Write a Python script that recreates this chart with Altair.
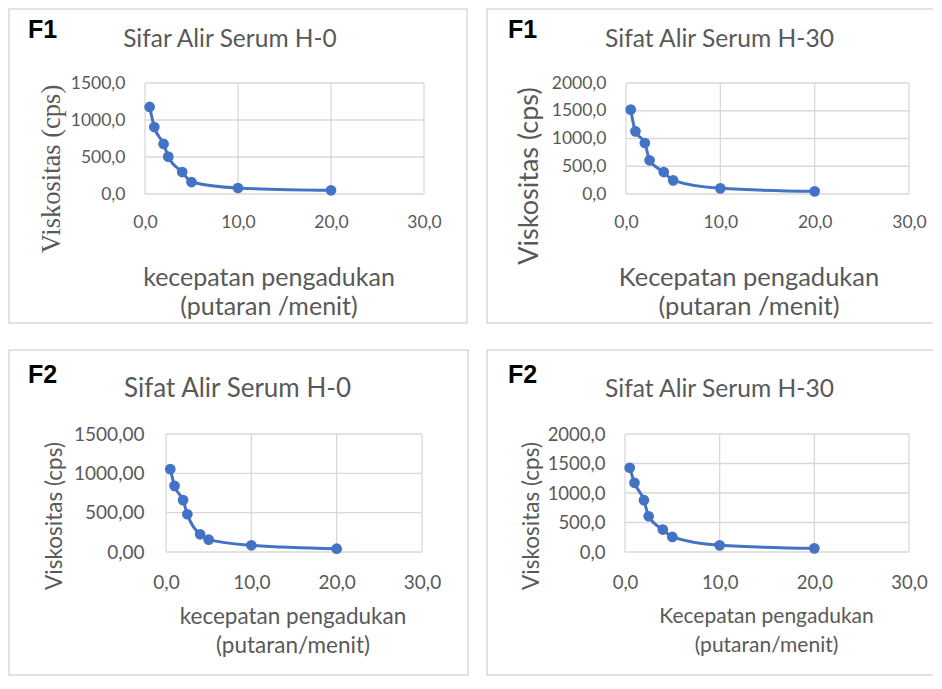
import altair as alt
import pandas as pd

# ---- data ----
speed = [0.5, 1, 2, 2.5, 4, 5, 10, 20]
f1_h0 = [1176, 905, 676, 505, 297, 162, 81, 50]
f1_h30 = [1520, 1129, 919, 607, 396, 246, 102, 48]
f2_h0 = [1054, 841, 659, 480, 225, 157, 85, 42]
f2_h30 = [1428, 1173, 878, 606, 380, 255, 113, 62]

x_ticks = [0, 10, 20, 30]
y_ticks_1500 = [0, 500, 1000, 1500]
y_ticks_2000 = [0, 500, 1000, 1500, 2000]

BLUE = "#4472C4"
GRAY = "#595959"
GRID = "#d9d9d9"
SANS = "Lato"
SERIF = "Liberation Serif, Lato"
CW, CH = 925, 668  # whole drawing


def txt(s, x, y, font, size, color=GRAY, weight="normal", align="center",
        baseline="alphabetic", angle=0):
    one = pd.DataFrame({"k": [0]})
    return alt.Chart(one).mark_text(text=s, align=align, baseline=baseline, font=font,
                                    fontSize=size, fontWeight=weight, color=color,
                                    angle=angle).encode(x=alt.value(x), y=alt.value(y))


def panel(vals, yticks, ydec, plot, frame, flabel, fpos, title, tpos, tsize,
          ytitle_font, ytsize, ytpos, xtitle, xtsize, xtpos, lab_size, ylab_pad, xlab_pad):
    x0, x1, y0, y1 = plot  # pixel box of the plot area (left, right, top, bottom)
    ymax = yticks[-1]
    fmt_y = "replace(format(datum.value, '.%df'), '.', ',')" % ydec
    fmt_x = "replace(format(datum.value, '.1f'), '.', ',')"

    xaxis = alt.Axis(values=x_ticks, labelExpr=fmt_x, grid=False, ticks=False, tickSize=0,
                     domain=False, labelFlush=False, labelOverlap=False, orient="bottom",
                     offset=y1 - CH, labelFont=SANS, labelFontSize=lab_size, labelColor=GRAY,
                     labelPadding=xlab_pad, labelBaseline="middle", title=None)
    yaxis = alt.Axis(values=yticks, labelExpr=fmt_y, grid=False, ticks=False, tickSize=0,
                     domain=False, labelOverlap=False, orient="left", offset=-x0,
                     labelFont=SANS, labelFontSize=lab_size, labelColor=GRAY,
                     labelPadding=ylab_pad, title=None)
    xs = alt.Scale(domain=[0, 30], range=[x0, x1], nice=False)
    ys = alt.Scale(domain=[0, ymax], range=[y1, y0], nice=False)
    X = alt.X("x:Q", scale=xs, axis=xaxis)
    Y = alt.Y("y:Q", scale=ys, axis=yaxis)

    df = pd.DataFrame({"x": speed, "y": vals})
    vgrid = pd.DataFrame({"x": x_ticks, "y": [0] * len(x_ticks), "y2": [ymax] * len(x_ticks)})
    hgrid = pd.DataFrame({"y": yticks, "x": [0] * len(yticks), "x2": [30] * len(yticks)})
    one = pd.DataFrame({"k": [0]})

    fl, fr, ft, fb = frame
    frame_l = alt.Chart(one).mark_rect(fill="transparent", stroke=GRID, strokeWidth=1.5).encode(
        x=alt.value(fl), x2=alt.value(fr), y=alt.value(ft), y2=alt.value(fb))
    vg = alt.Chart(vgrid).mark_rule(color=GRID, strokeWidth=1.3).encode(x=X, y=Y, y2="y2:Q")
    hg = alt.Chart(hgrid).mark_rule(color=GRID, strokeWidth=1.3).encode(y=Y, x=X, x2="x2:Q")
    base = alt.Chart(df).encode(x=X, y=Y)
    line = base.mark_line(color=BLUE, strokeWidth=3, interpolate="monotone")
    pts = base.mark_circle(color=BLUE, size=115, opacity=1)

    flab = txt(flabel, fpos[0], fpos[1], "Liberation Sans", 25, color="black",
               weight="bold", align="left")
    ttl = txt(title, tpos[0], tpos[1], SANS, tsize)
    ytl = txt("Viskositas (cps)", ytpos[0], ytpos[1], ytitle_font, ytsize,
              baseline="middle", angle=270)
    xt1 = txt(xtitle[0], xtpos[0], xtpos[1], SANS, xtsize, baseline="middle")
    xt2 = txt(xtitle[1], xtpos[0], xtpos[1] + 29, SANS, xtsize, baseline="middle")
    return alt.layer(frame_l, vg, hg, line, pts, flab, ttl, ytl, xt1, xt2)


tl = panel(f1_h0, y_ticks_1500, 1, (137, 416, 75, 186), (1, 459, 1, 315), "F1", (20, 30),
           "Sifar Alir Serum H-0", (222, 39), 24.5, SERIF, 26.5, (44, 161),
           ["kecepatan pengadukan", "(putaran /menit)"], 25, (261, 270), 17.5, 20, 28)
tr = panel(f1_h30, y_ticks_2000, 1, (618, 901, 75, 186), (479, 935, 1, 315), "F1", (500, 30),
           "Sifat Alir Serum H-30", (711.5, 39), 24.6, SANS, 27, (522, 168),
           ["Kecepatan pengadukan", "(putaran /menit)"], 25.5, (741, 270), 17.5, 20, 28)
bl = panel(f2_h0, y_ticks_1500, 2, (158, 414, 426, 544), (1, 460, 342, 667), "F2", (20, 375),
           "Sifat Alir Serum H-0", (229.5, 389), 26, SANS, 22.5, (47, 508),
           ["kecepatan pengadukan", "(putaran/menit)"], 22.5, (285, 609), 19, 22, 30)
br = panel(f2_h30, y_ticks_2000, 1, (617, 901, 426, 544), (479, 935, 342, 667), "F2", (500, 375),
           "Sifat Alir Serum H-30", (711.5, 389), 24.6, SANS, 22.5, (524, 508),
           ["Kecepatan pengadukan", "(putaran/menit)"], 21, (758.5, 609), 18.5, 20, 30)

chart = (
    alt.layer(tl, tr, bl, br)
    .resolve_scale(x="independent", y="independent")
    .resolve_axis(x="independent", y="independent")
    .properties(width=CW, height=CH, padding=0, background="white",
                autosize=alt.AutoSizeParams(type="none"))
    .configure_view(stroke="transparent")
)

chart.save("out.html", embed_options={"renderer": "svg", "actions": False})
